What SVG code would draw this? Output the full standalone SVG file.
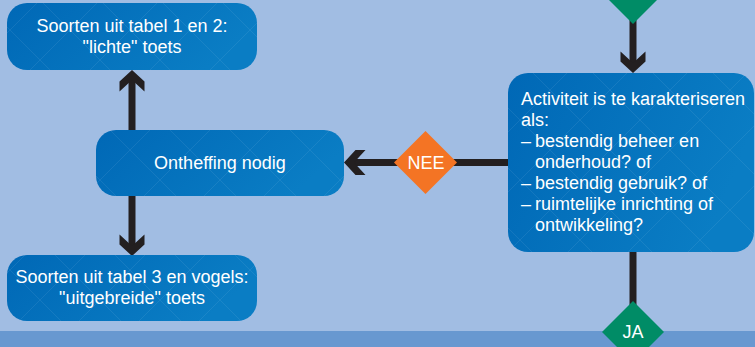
<svg xmlns="http://www.w3.org/2000/svg" width="755" height="347" viewBox="0 0 755 347">
<style>
.box{fill:url(#bg);}
.pat{fill:url(#dia);}
.t{font-family:"Liberation Sans",Arial,sans-serif;font-size:18px;fill:#ffffff;}
.c{text-anchor:middle;}
.shaft{stroke:#231f20;stroke-width:7;fill:none;}
.head{fill:#231f20;}
.ja{fill:#008c66;}
.nee{fill:#f47424;}
</style>
<defs>
<linearGradient id="bg" x1="0" y1="0" x2="1" y2="0.3">
<stop offset="0" stop-color="#0068b6"/>
<stop offset="1" stop-color="#0a7dc4"/>
</linearGradient>
<pattern id="dia" width="60" height="60" patternUnits="userSpaceOnUse" patternTransform="translate(10,0)">
<path d="M30,0 L60,30 L30,60 L0,30 Z" fill="none" stroke="#ffffff" stroke-opacity="0.07" stroke-width="1"/>
</pattern>
<path id="ah" d="M0,0 L12.5,11.5 L12.5,21.5 L0,10 L-12.5,21.5 L-12.5,11.5 Z"/>
</defs>
<rect x="0" y="0" width="755" height="347" fill="#a1bde3"/>
<rect x="0" y="331" width="755" height="16" fill="#6898d0"/>

<g id="connectors">
<line class="shaft" x1="132" y1="130" x2="132" y2="80"/>
<use href="#ah" class="head" transform="translate(132,70)"/>
<line class="shaft" x1="132" y1="196" x2="132" y2="246"/>
<use href="#ah" class="head" transform="translate(132,256) rotate(180)"/>
<line class="shaft" x1="633" y1="20" x2="633" y2="63"/>
<use href="#ah" class="head" transform="translate(633,73) rotate(180)"/>
<line class="shaft" x1="508" y1="162.5" x2="354" y2="162.5"/>
<use href="#ah" class="head" transform="translate(344,162.5) rotate(-90)"/>
<line class="shaft" x1="633" y1="252" x2="633" y2="305"/>
</g>

<g id="node-lichte">
<rect class="box" x="7" y="3" width="250" height="67" rx="20"/>
<rect class="pat" x="7" y="3" width="250" height="67" rx="20"/>
<text class="t c" x="132" y="32">Soorten uit tabel 1 en 2:</text>
<text class="t c" x="132" y="53">"lichte" toets</text>
</g>

<g id="node-ontheffing">
<rect class="box" x="96" y="130" width="248" height="66" rx="20"/>
<rect class="pat" x="96" y="130" width="248" height="66" rx="20"/>
<text class="t c" x="220" y="169">Ontheffing nodig</text>
</g>

<g id="node-uitgebreide">
<rect class="box" x="7" y="255" width="250" height="66" rx="20"/>
<rect class="pat" x="7" y="255" width="250" height="66" rx="20"/>
<text class="t c" x="132" y="283">Soorten uit tabel 3 en vogels:</text>
<text class="t c" x="132" y="304">"uitgebreide" toets</text>
</g>

<g id="node-activiteit">
<rect class="box" x="508" y="73" width="246" height="179" rx="20"/>
<rect class="pat" x="508" y="73" width="246" height="179" rx="20"/>
<text class="t" x="521" y="105">Activiteit is te karakteriseren</text>
<text class="t" x="521" y="126">als:</text>
<text class="t" x="521" y="147">–</text>
<text class="t" x="535" y="147">bestendig beheer en</text>
<text class="t" x="535" y="168">onderhoud? of</text>
<text class="t" x="521" y="189">–</text>
<text class="t" x="535" y="189">bestendig gebruik? of</text>
<text class="t" x="521" y="210">–</text>
<text class="t" x="535" y="210">ruimtelijke inrichting of</text>
<text class="t" x="535" y="231">ontwikkeling?</text>
</g>

<g id="node-ja-top">
<path class="ja" d="M633,-38 L664,-7 L633,24 L602,-7 Z"/>
<text class="t c" x="633" y="-1">JA</text>
</g>

<g id="node-nee">
<path class="nee" d="M425.5,131 L457,162.5 L425.5,194 L394,162.5 Z"/>
<text class="t c" x="426" y="168.5">NEE</text>
</g>

<g id="node-ja-bottom">
<path class="ja" d="M633,301 L664,332 L633,363 L602,332 Z"/>
<text class="t c" x="633" y="338">JA</text>
</g>
</svg>
